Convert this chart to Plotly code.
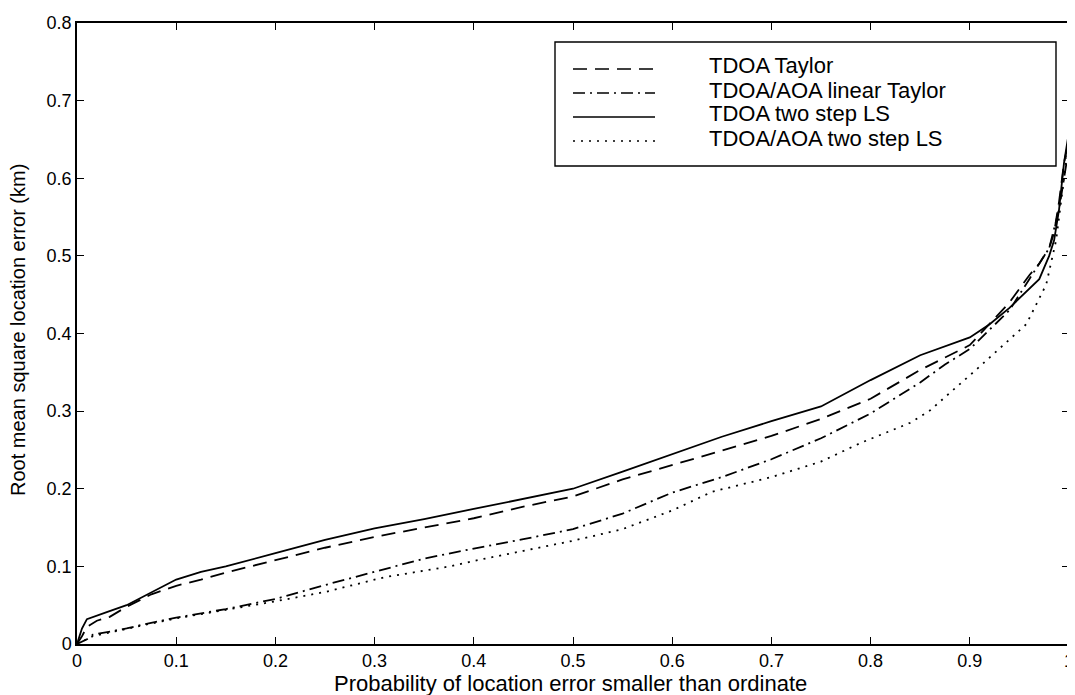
import plotly.graph_objects as go

# ---- data ----
x_tdoa_ls = [0, 0.005, 0.01, 0.02, 0.03, 0.05, 0.075, 0.1, 0.125, 0.15, 0.2, 0.25, 0.3, 0.35, 0.4,
             0.45, 0.5, 0.55, 0.6, 0.65, 0.7, 0.75, 0.8, 0.85, 0.9, 0.92, 0.94, 0.96, 0.97, 0.98,
             0.985, 0.99, 0.995, 1.0]
y_tdoa_ls = [0, 0.02, 0.032, 0.037, 0.041, 0.05, 0.066, 0.083, 0.093, 0.1, 0.117, 0.134, 0.149, 0.161, 0.174,
             0.187, 0.2, 0.222, 0.245, 0.267, 0.287, 0.306, 0.34, 0.372, 0.395, 0.412, 0.433, 0.458, 0.47, 0.5,
             0.52, 0.56, 0.62, 0.66]

x_tdoa_taylor = [0, 0.005, 0.01, 0.02, 0.033, 0.05, 0.075, 0.1, 0.125, 0.15, 0.2, 0.25, 0.3, 0.35, 0.4,
                 0.45, 0.5, 0.55, 0.6, 0.65, 0.7, 0.75, 0.8, 0.85, 0.9, 0.92, 0.94, 0.96, 0.97, 0.98,
                 0.985, 0.99, 0.995, 1.0]
y_tdoa_taylor = [0, 0.01, 0.022, 0.03, 0.035, 0.048, 0.064, 0.075, 0.083, 0.092, 0.108, 0.124, 0.138, 0.15, 0.162,
                 0.177, 0.19, 0.212, 0.23, 0.249, 0.268, 0.29, 0.316, 0.353, 0.385, 0.413, 0.44, 0.475, 0.49, 0.51,
                 0.53, 0.57, 0.62, 0.65]

x_aoa_taylor = [0, 0.01, 0.016, 0.05, 0.066, 0.1, 0.15, 0.2, 0.25, 0.3, 0.35, 0.4, 0.45, 0.5, 0.55,
                0.6, 0.65, 0.7, 0.75, 0.8, 0.85, 0.875, 0.9, 0.92, 0.94, 0.96, 0.98, 0.99, 1.0]
y_aoa_taylor = [0, 0.006, 0.012, 0.02, 0.025, 0.034, 0.045, 0.058, 0.076, 0.093, 0.11, 0.123, 0.135, 0.148, 0.168,
                0.195, 0.215, 0.238, 0.265, 0.297, 0.337, 0.36, 0.38, 0.405, 0.43, 0.47, 0.51, 0.56, 0.64]

x_aoa_ls = [0, 0.016, 0.066, 0.1, 0.15, 0.2, 0.25, 0.31, 0.376, 0.4, 0.45, 0.5, 0.55, 0.6, 0.64,
            0.675, 0.7, 0.75, 0.79, 0.84, 0.86, 0.875, 0.907, 0.957, 0.977, 0.987, 0.993, 0.997, 1.0]
y_aoa_ls = [0, 0.01, 0.024, 0.033, 0.044, 0.055, 0.067, 0.086, 0.1, 0.107, 0.12, 0.133, 0.148, 0.172, 0.196,
            0.207, 0.215, 0.235, 0.259, 0.285, 0.301, 0.318, 0.354, 0.412, 0.463, 0.52, 0.585, 0.62, 0.64]

legend_labels = ["TDOA Taylor", "TDOA/AOA linear Taylor", "TDOA two step LS", "TDOA/AOA two step LS"]
dash_styles = ["14px,8px", "12px,5px,2px,5px", "solid", "2px,6px"]

x_ticks = [0, 0.1, 0.2, 0.3, 0.4, 0.5, 0.6, 0.7, 0.8, 0.9, 1]
x_tick_text = ["0", "0.1", "0.2", "0.3", "0.4", "0.5", "0.6", "0.7", "0.8", "0.9", "1"]
y_ticks = [0, 0.1, 0.2, 0.3, 0.4, 0.5, 0.6, 0.7, 0.8]
y_tick_text = ["0", "0.1", "0.2", "0.3", "0.4", "0.5", "0.6", "0.7", "0.8"]

x_title = "Probability of location error smaller than ordinate"
y_title = "Root mean square location error (km)"

series = [
    (x_tdoa_taylor, y_tdoa_taylor),
    (x_aoa_taylor, y_aoa_taylor),
    (x_tdoa_ls, y_tdoa_ls),
    (x_aoa_ls, y_aoa_ls),
]

FONT = "Liberation Sans, Arial, Helvetica, sans-serif"

fig = go.Figure()
for (xs, ys), name, d in zip(series, legend_labels, dash_styles):
    fig.add_trace(go.Scatter(x=xs, y=ys, mode="lines", name=name,
                             line=dict(color="black", width=1.8, dash=d),
                             showlegend=False))

W, H = 1075, 695
OFF = 8  # page body margin: figure is drawn 8px right/down of the window corner
# plot area in window pixels (as in the reference): x 77..1069, y 23..644
L = 77 - OFF
R = W - (1069 - OFF)
T = 23 - OFF
B = H - (644 - OFF)
pw, ph = W - L - R, H - T - B

def px2paper(px, py):
    fx, fy = px - OFF, py - OFF
    return (fx - L) / pw, (H - B - fy) / ph

# custom MATLAB-style legend box
bx0, by0 = px2paper(555, 166)
bx1, by1 = px2paper(1056, 42)
fig.add_shape(type="rect", xref="paper", yref="paper", x0=bx0, y0=by0, x1=bx1, y1=by1,
              line=dict(color="black", width=1.4), fillcolor="white", layer="above")
row_py = [66, 90, 114, 138]
for name, d, py in zip(legend_labels, dash_styles, row_py):
    lx0, ly = px2paper(573, py + 3)
    lx1, _ = px2paper(655, py + 3)
    fig.add_shape(type="line", xref="paper", yref="paper", x0=lx0, y0=ly, x1=lx1, y1=ly,
                  line=dict(color="black", width=1.6, dash=d), layer="above")
    tx, ty = px2paper(708, py)
    fig.add_annotation(xref="paper", yref="paper", x=tx, y=ty, text=name, showarrow=False,
                       xanchor="left", yanchor="middle", borderpad=0,
                       font=dict(family=FONT, size=22, color="black"))

# axis titles as text placed where the reference has them
xtx, xty = px2paper(570, 683)
fig.add_annotation(xref="paper", yref="paper", x=xtx, y=xty, text=x_title, showarrow=False,
                   xanchor="center", yanchor="middle", borderpad=0,
                   font=dict(family=FONT, size=22, color="black"))
ytx, yty = px2paper(18, 330)
fig.add_annotation(xref="paper", yref="paper", x=ytx, y=yty, text=y_title, showarrow=False,
                   xanchor="center", yanchor="middle", textangle=-90, borderpad=0,
                   font=dict(family=FONT, size=20, color="black"))

axis_common = dict(showline=True, linecolor="black", linewidth=1.5, mirror="ticks",
                   ticks="inside", ticklen=7, tickcolor="black", tickwidth=1.3,
                   showgrid=False, zeroline=False,
                   tickfont=dict(family=FONT, size=18, color="black"))

fig.update_xaxes(range=[0, 1], tickvals=x_ticks, ticktext=x_tick_text, **axis_common)
fig.update_yaxes(range=[0, 0.8], tickvals=y_ticks, ticktext=y_tick_text, **axis_common)

fig.update_layout(width=W, height=H, margin=dict(l=L, r=R, t=T, b=B, autoexpand=False),
                  plot_bgcolor="white", paper_bgcolor="white", showlegend=False)

fig.write_html("out.html")
